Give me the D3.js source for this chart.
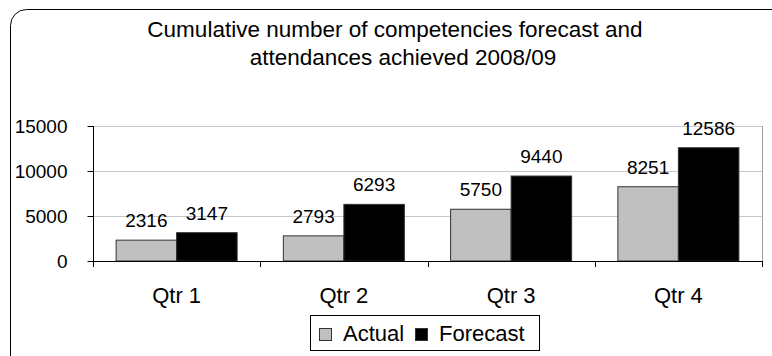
<!DOCTYPE html>
<html>
<head>
<meta charset="utf-8">
<script src="https://cdn.jsdelivr.net/npm/d3@7"></script>
<style>
  html, body { margin: 0; padding: 0; background: #fff; }
  svg { display: block; font-family: "Liberation Sans", Arial, sans-serif; }
</style>
</head>
<body>
<svg id="chart" width="772" height="356"></svg>
<script>
// Quarterly data, 2008/09
const quarters = ["Qtr 1", "Qtr 2", "Qtr 3", "Qtr 4"];
const seriesNames = ["Actual", "Forecast"];
const actual = [2316, 2793, 5750, 8251];
const forecast = [3147, 6293, 9440, 12586];
const yTicks = [0, 5000, 10000, 15000];
const titleLines = ["Cumulative number of competencies forecast and", "attendances achieved 2008/09"];

const seriesValues = { Actual: actual, Forecast: forecast };
const fills = { Actual: "#c0c0c0", Forecast: "#000000" };

const svg = d3.select("#chart");

// Outer chart frame with rounded corners
svg.append("rect")
  .attr("x", 10.5).attr("y", 9.5)
  .attr("width", 800).attr("height", 400)
  .attr("rx", 16).attr("ry", 16)
  .attr("fill", "#fff").attr("stroke", "#000").attr("stroke-width", 1);

// Title
const titleX = [395, 403];
svg.append("g").selectAll("text").data(titleLines).join("text")
  .attr("x", (d, i) => titleX[i])
  .attr("y", (d, i) => 37 + i * 28)
  .attr("text-anchor", "middle")
  .attr("font-size", 22.5)
  .attr("fill", "#000")
  .text(d => d);

const plot = { left: 93, right: 762, top: 126, bottom: 261 };

const x0 = d3.scaleBand().domain(quarters).range([plot.left, plot.right]).padding(0);
const x1 = d3.scaleBand().domain(seriesNames).range([0, x0.bandwidth()])
  .paddingInner(0).paddingOuter(0.382);
const y = d3.scaleLinear().domain([0, 15000]).range([plot.bottom, plot.top]);

// Horizontal gridlines
svg.append("g").selectAll("line").data(yTicks.filter(t => t > 0)).join("line")
  .attr("x1", plot.left).attr("x2", plot.right)
  .attr("y1", d => Math.round(y(d)) + 0.5).attr("y2", d => Math.round(y(d)) + 0.5)
  .attr("stroke", "#c8c8c8").attr("stroke-width", 1);

// Right edge of the plot area
svg.append("line")
  .attr("x1", plot.right + 0.5).attr("x2", plot.right + 0.5)
  .attr("y1", plot.top).attr("y2", plot.bottom)
  .attr("stroke", "#a0a0a0").attr("stroke-width", 1);

// Bars
const groups = svg.append("g").selectAll("g").data(quarters).join("g")
  .attr("transform", d => `translate(${x0(d)},0)`);

groups.selectAll("rect")
  .data((q, qi) => seriesNames.map(s => ({ s, v: seriesValues[s][qi] })))
  .join("rect")
  .attr("x", d => x1(d.s))
  .attr("y", d => y(d.v))
  .attr("width", x1.bandwidth())
  .attr("height", d => y(0) - y(d.v))
  .attr("fill", d => fills[d.s])
  .attr("stroke", "#333")
  .attr("stroke-width", 1);

// Value labels
groups.selectAll("text")
  .data((q, qi) => seriesNames.map(s => ({ s, v: seriesValues[s][qi] })))
  .join("text")
  .attr("x", d => x1(d.s) + x1.bandwidth() / 2)
  .attr("y", d => y(d.v) - 13)
  .attr("text-anchor", "middle")
  .attr("font-size", 19)
  .attr("fill", "#000")
  .text(d => d.v);

// Y axis
const yAxis = svg.append("g")
  .attr("transform", `translate(${plot.left + 0.5},0)`)
  .call(d3.axisLeft(y).tickValues(yTicks).tickSize(6).tickPadding(20).tickFormat(d3.format("d")));
yAxis.select(".domain").attr("stroke", "#000").attr("d", `M0,${plot.top}V${plot.bottom}`);
yAxis.selectAll(".tick line").attr("stroke", "#000");
yAxis.selectAll(".tick text").attr("font-size", 19).attr("fill", "#000")
  .attr("font-family", "Liberation Sans, Arial, sans-serif");

// X axis: ticks sit between categories
const boundaries = quarters.map(q => x0(q)).concat([plot.right]);
const xAxisG = svg.append("g");
xAxisG.append("line")
  .attr("x1", plot.left).attr("x2", plot.right + 1)
  .attr("y1", plot.bottom + 0.5).attr("y2", plot.bottom + 0.5)
  .attr("stroke", "#000");
xAxisG.selectAll("line.tk").data(boundaries).join("line")
  .attr("class", "tk")
  .attr("x1", d => Math.round(d) + 0.5).attr("x2", d => Math.round(d) + 0.5)
  .attr("y1", plot.bottom).attr("y2", plot.bottom + 6)
  .attr("stroke", "#000");
xAxisG.selectAll("text").data(quarters).join("text")
  .attr("x", d => x0(d) + x0.bandwidth() / 2)
  .attr("y", 303)
  .attr("text-anchor", "middle")
  .attr("font-size", 22)
  .attr("fill", "#000")
  .text(d => d);

// Legend
const legend = svg.append("g");
legend.append("rect")
  .attr("x", 310.5).attr("y", 315.5).attr("width", 229).attr("height", 35)
  .attr("fill", "#fff").attr("stroke", "#000");
const legendX = [319, 415];
const items = legend.selectAll("g").data(seriesNames).join("g")
  .attr("transform", (d, i) => `translate(${legendX[i]},0)`);
items.append("rect")
  .attr("x", 0.5).attr("y", 328.5).attr("width", 12).attr("height", 12)
  .attr("fill", d => fills[d]).attr("stroke", "#333");
items.append("text")
  .attr("x", 24).attr("y", 341)
  .attr("font-size", 22).attr("fill", "#000")
  .text(d => d);
</script>
</body>
</html>
